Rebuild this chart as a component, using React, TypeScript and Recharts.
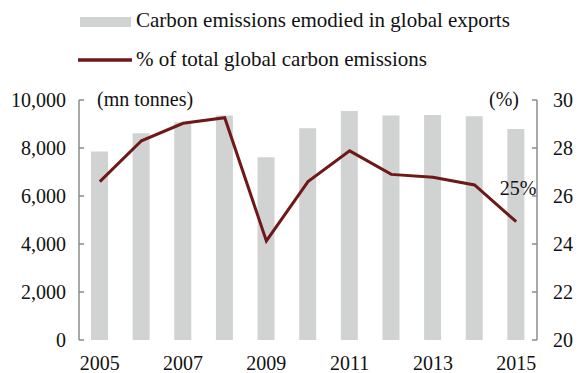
import React from 'react';
import { ComposedChart, Bar, Line, XAxis, YAxis, Legend } from 'recharts';

const years = ['2005', '2006', '2007', '2008', '2009', '2010', '2011', '2012', '2013', '2014', '2015'];
const exportsEmissions = [7850, 8610, 9070, 9350, 7610, 8820, 9540, 9350, 9380, 9320, 8790];
const shareOfTotal = [26.6, 28.3, 29.03, 29.26, 24.13, 26.6, 27.88, 26.9, 26.78, 26.46, 24.93];
const leftTicks = [0, 2000, 4000, 6000, 8000, 10000];
const rightTicks = [20, 22, 24, 26, 28, 30];
const boundaryTicks = [2, 4, 6, 8, 10];

const data = years.map((y, i) => ({ year: y, exp: exportsEmissions[i], share: shareOfTotal[i] }));

const FONT = '"Liberation Serif", "Times New Roman", serif';
const BAR = '#D1D2D2';
const LINE = '#6E1818';
const AXIS = '#8C8C8C';
const TEXT = '#111';

const LegendContent = () => (
  <svg width={580} height={90} style={{ display: 'block' }}>
    <rect x={80} y={17} width={51} height={10} fill={BAR} />
    <text x={136} y={27} fontFamily={FONT} fontSize={21} fill={TEXT}>
      Carbon emissions emodied in global exports
    </text>
    <line x1={78} x2={132} y1={60} y2={60} stroke={LINE} strokeWidth={3.5} />
    <text x={136} y={66} fontFamily={FONT} fontSize={21} fill={TEXT}>
      % of total global carbon emissions
    </text>
  </svg>
);

const lastLabel = (props: any) => {
  const { x, y, index } = props;
  if (index !== years.length - 1) return null;
  return (
    <text x={x + 2} y={y - 27} textAnchor="middle" fontFamily={FONT} fontSize={20} fill={TEXT}>
      25%
    </text>
  );
};

export default function App() {
  return (
    <div style={{ position: 'absolute', left: 0, top: 0 }}>
      <ComposedChart
        width={580}
        height={373}
        data={data}
        margin={{ top: 10, right: 0, bottom: 0, left: 0 }}
        barCategoryGap={0}
      >
        <Legend
          verticalAlign="top"
          align="left"
          content={<LegendContent />}
          wrapperStyle={{ top: 0, left: 0, width: 580, height: 90, margin: 0, padding: 0 }}
        />
        <XAxis
          xAxisId="marks"
          type="number"
          domain={[0, 11]}
          ticks={boundaryTicks}
          height={0}
          mirror
          tick={false}
          tickSize={6}
          tickLine={{ stroke: AXIS, strokeWidth: 1.5 }}
          axisLine={{ stroke: AXIS, strokeWidth: 1.5 }}
          allowDataOverflow
        />
        <XAxis
          xAxisId="cat"
          dataKey="year"
          interval={1}
          height={33}
          tickLine={false}
          axisLine={false}
          tickSize={0}
          tickMargin={16}
          tick={{ fontFamily: FONT, fontSize: 20, fill: TEXT }}
        />
        <YAxis
          yAxisId="left"
          domain={[0, 10000]}
          ticks={leftTicks}
          width={79}
          tickSize={-5}
          tickMargin={18}
          tickFormatter={(v: number) => v.toLocaleString('en-US')}
          tick={{ fontFamily: FONT, fontSize: 20, fill: TEXT }}
          tickLine={{ stroke: AXIS, strokeWidth: 1.5 }}
          axisLine={{ stroke: AXIS, strokeWidth: 1.5 }}
        />
        <YAxis
          yAxisId="right"
          orientation="right"
          domain={[20, 30]}
          ticks={rightTicks}
          width={43}
          tickSize={-5}
          tickMargin={21}
          tick={{ fontFamily: FONT, fontSize: 20, fill: TEXT }}
          tickLine={{ stroke: AXIS, strokeWidth: 1.5 }}
          axisLine={{ stroke: AXIS, strokeWidth: 1.5 }}
        />
        <Bar xAxisId="cat" yAxisId="left" dataKey="exp" fill={BAR} barSize={17} isAnimationActive={false} />
        <Line
          xAxisId="cat"
          yAxisId="right"
          dataKey="share"
          stroke={LINE}
          strokeWidth={3}
          dot={false}
          type="linear"
          label={lastLabel}
          isAnimationActive={false}
        />
        <text x={97} y={106} fontFamily={FONT} fontSize={20} fill={TEXT}>(mn tonnes)</text>
        <text x={489} y={106} fontFamily={FONT} fontSize={20} fill={TEXT}>(%)</text>
      </ComposedChart>
    </div>
  );
}
